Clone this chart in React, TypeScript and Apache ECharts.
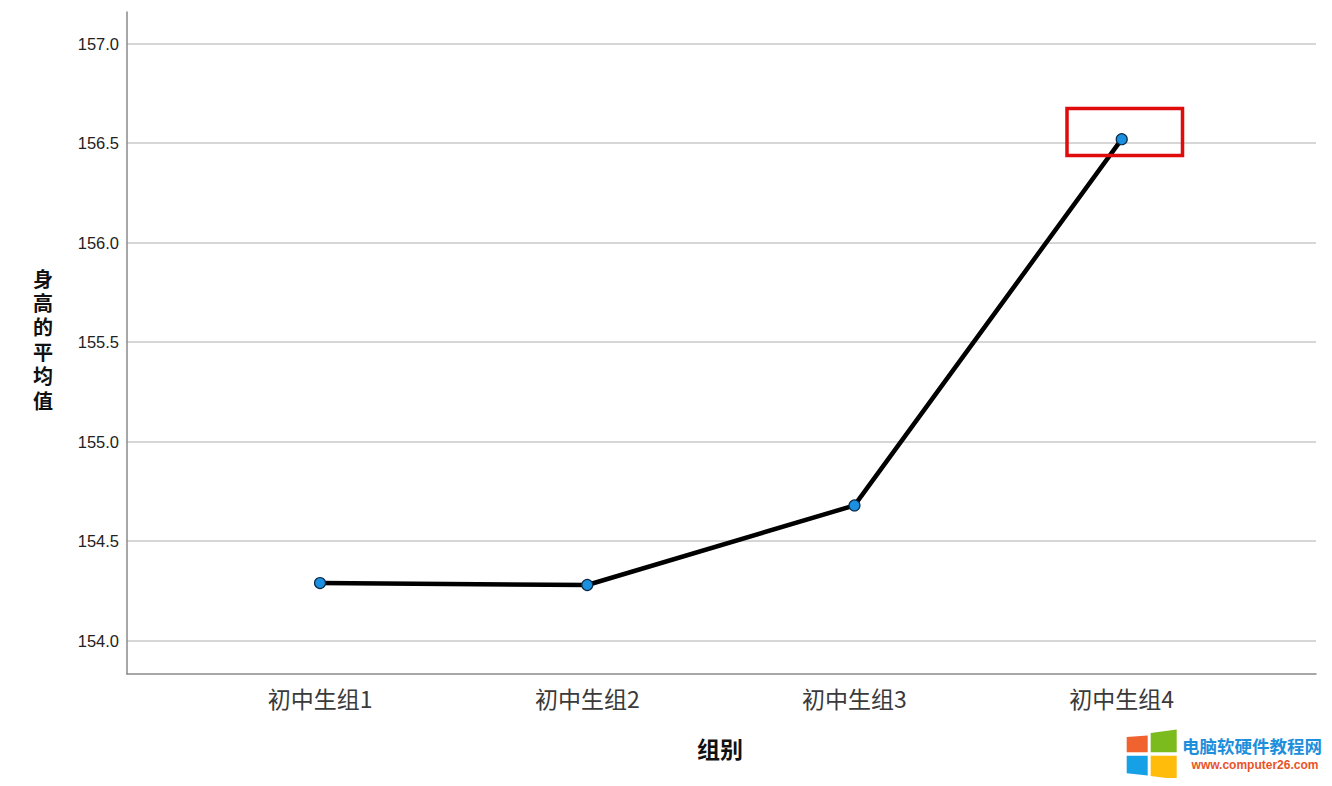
import React, { useEffect, useRef } from "react";
import * as echarts from "echarts";

const categories = ["初中生组1", "初中生组2", "初中生组3", "初中生组4"];
const categoryPositions = [1, 2, 3, 4];
const meanHeights = [154.29, 154.28, 154.68, 156.52];
const yTicks = [154.0, 154.5, 155.0, 155.5, 156.0, 156.5, 157.0];
const yTitle = "身高的平均值";
const xTitle = "组别";

export default function App() {
  const ref = useRef<HTMLDivElement>(null);
  useEffect(() => {
    if (!ref.current) return;
    const chart = echarts.init(ref.current, undefined, { renderer: "svg" });
    const seriesData = categoryPositions.map((p, i) => [p, meanHeights[i]]);
    const yTitleChars = yTitle.split("").map((ch, i) => ({
      type: "text",
      x: 43,
      y: 278 + i * 24.4,
      style: {
        text: ch,
        font: 'bold 20px "Noto Sans CJK SC"',
        lineHeight: 20,
        fill: "#111111",
        align: "center",
        verticalAlign: "middle",
      },
    }));
    chart.setOption({
      animation: false,
      backgroundColor: "#ffffff",
      grid: { left: 127, right: 16, top: 12, bottom: 112 },
      xAxis: {
        type: "value",
        min: 0.2777,
        max: 4.727,
        axisLine: { show: true, lineStyle: { color: "#8a8a8a", width: 1.5 } },
        axisTick: { show: false, customValues: categoryPositions },
        splitLine: { show: false },
        axisLabel: {
          customValues: categoryPositions,
          formatter: (v: number) => categories[Math.round(v) - 1] ?? "",
          fontFamily: "Noto Sans CJK SC",
          fontSize: 23,
          color: "#3a3a3a",
          margin: 12,
        },
      },
      yAxis: {
        type: "value",
        min: 153.833,
        max: 157.159,
        axisLine: { show: true, lineStyle: { color: "#8a8a8a", width: 1.5 } },
        axisTick: { show: false, customValues: yTicks },
        splitLine: { show: true, lineStyle: { color: "#c8c8c8", width: 1.5 } },
        axisLabel: {
          customValues: yTicks,
          formatter: (v: number) => v.toFixed(1),
          fontFamily: "Liberation Sans",
          fontSize: 16.5,
          color: "#222222",
          margin: 8,
        },
      },
      series: [
        {
          type: "line",
          data: seriesData,
          lineStyle: { color: "#000000", width: 4.5 },
          symbol: "circle",
          symbolSize: 11,
          itemStyle: { color: "#1b8fe0", borderColor: "#0d2a44", borderWidth: 1.2 },
          z: 3,
        },
      ],
      graphic: [
        ...yTitleChars,
        {
          type: "text",
          x: 720,
          y: 748,
          style: {
            text: xTitle,
            font: 'bold 23px "Noto Sans CJK SC"',
            fill: "#111111",
            align: "center",
            verticalAlign: "middle",
          },
        },
        {
          type: "rect",
          shape: { x: 1067, y: 108.5, width: 115.5, height: 47 },
          style: { fill: "none", stroke: "#e00b0b", lineWidth: 3.5 },
          z: 10,
        },
        {
          type: "polygon",
          shape: { points: [[1126.7, 737], [1147.7, 735.5], [1147.7, 752.3], [1126.7, 752.3]] },
          style: { fill: "#f0622e" },
        },
        {
          type: "polygon",
          shape: { points: [[1150.7, 733], [1176.7, 729.5], [1176.7, 752.3], [1150.7, 752.3]] },
          style: { fill: "#7cbb1e" },
        },
        {
          type: "polygon",
          shape: { points: [[1126.7, 755.7], [1147.7, 755.7], [1147.7, 775.5], [1126.7, 773.3]] },
          style: { fill: "#16a0e6" },
        },
        {
          type: "polygon",
          shape: { points: [[1150.7, 755.7], [1176.7, 755.7], [1176.7, 779.3], [1150.7, 776]] },
          style: { fill: "#ffbc0b" },
        },
        {
          type: "text",
          x: 1182,
          y: 745,
          style: {
            text: "电脑软硬件教程网",
            font: 'bold 17.5px "Noto Sans CJK SC"',
            fill: "#1d8fdb",
            align: "left",
            verticalAlign: "middle",
          },
        },
        {
          type: "text",
          x: 1255,
          y: 765,
          style: {
            text: "www.computer26.com",
            font: 'bold 12px "Liberation Sans"',
            fill: "#e8542a",
            align: "center",
            verticalAlign: "middle",
          },
        },
      ],
    });
    return () => chart.dispose();
  }, []);
  return <div ref={ref} style={{ width: 1332, height: 786, margin: -8 }} />;
}
